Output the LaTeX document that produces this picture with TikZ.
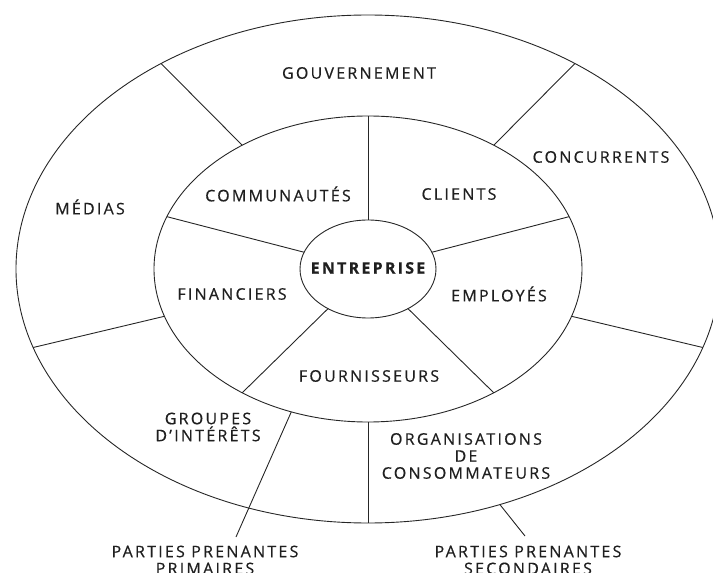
\documentclass[tikz,border=0pt]{standalone}
\usepackage{fontspec}
\setmainfont{Open Sans}[LetterSpace=14, FakeBold=0.5]
\usetikzlibrary{calc}

\tikzset{
  ring/.style={line width=0.9pt, black!85},
  lbl/.style={font=\fontsize{16}{17}\selectfont, align=center, inner sep=0pt, text=black!88}
}

\begin{document}
\begin{tikzpicture}[x=1pt,y=1pt]
                \useasboundingbox (-368,-304) rectangle (345,269);
                % Rings
                \draw[ring] (0,0) ellipse [x radius=352pt, y radius=254pt];
                \draw[ring] (0,0) ellipse [x radius=214pt, y radius=153pt];
                \draw[ring] (0,0) ellipse [x radius=68pt, y radius=49pt];
                % Primary stakeholders
                \foreach \a in {20, 90, 160, 234, 306} {
                    \draw[ring] (\a:68pt and 49pt) -- (\a:214pt and 153pt);
                }
                % Secondary stakeholders
                \foreach \a in {54, 126, 198, 270, 342} {
                    \draw[ring] (\a:214pt and 153pt) -- (\a:352pt and 254pt);
                }
                \node[lbl, font=\fontsize{16}{17}\selectfont\bfseries] (entreprise) at (0,1) {ENTREPRISE};
                \node[lbl] (communautes) at (-90,75) {COMMUNAUTÉS};
                \node[lbl] (clients) at (91,75) {CLIENTS};
                \node[lbl] (financiers) at (-136,-25) {FINANCIERS};
                \node[lbl] (employes) at (131,-25) {EMPLOYÉS};
                \node[lbl] (fournisseurs) at (1,-107) {FOURNISSEURS};
                \node[lbl] (gouvernement) at (-9,196) {GOUVERNEMENT};
                \node[lbl] (concurrents) at (233,112) {CONCURRENTS};
                \node[lbl] (medias) at (-278,62) {MÉDIAS};
                \node[lbl] (groupes) at (-160,-158) {GROUPES\\D’INTÉRÊTS};
                \node[lbl] (organisations) at (98,-187) {ORGANISATIONS\\DE\\CONSOMMATEURS};
                % Pointers
                \node[lbl] (primaires) at (-163,-291) {PARTIES PRENANTES\\PRIMAIRES};
                \node[lbl] (secondaires) at (160,-291) {PARTIES PRENANTES\\SECONDAIRES};
                \coordinate (primtip) at (-132,-268);
                \coordinate (sectip) at (157,-267);
                \draw[ring] (249:214pt and 153pt) -- (primtip);
                \draw[ring] (292:352pt and 254pt) -- (sectip);
            \end{tikzpicture}
\end{document}
